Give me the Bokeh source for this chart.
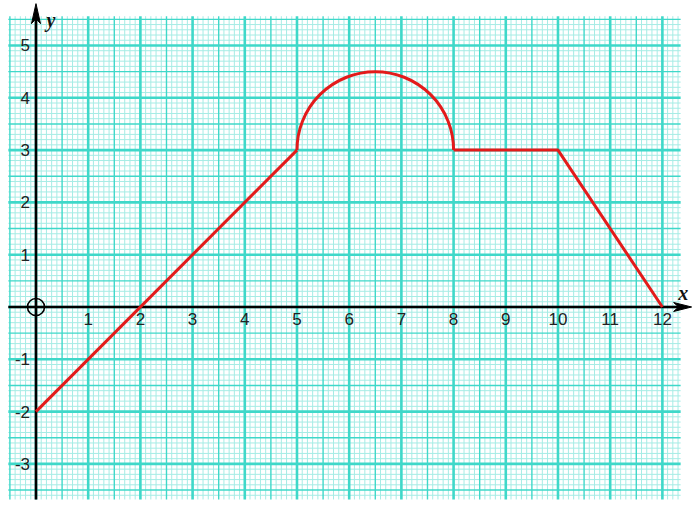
import numpy as np
from bokeh.plotting import figure
from bokeh.models import Range1d
from bokeh.core.properties import value
from bokeh.embed import file_html
from bokeh.resources import INLINE

# ---- data ----
line1_x = [0, 5]
line1_y = [-2, 3]
arc_center_x = [6.5]
arc_center_y = [3]
arc_radius = 1.5
line2_x = [8, 10, 12]
line2_y = [3, 3, 0]

x_tick_values = list(range(1, 13))
x_tick_labels = [str(v) for v in x_tick_values]
y_tick_values = [-3, -2, -1, 1, 2, 3, 4, 5]
y_tick_labels = [str(v) for v in y_tick_values]

# ---- figure ----
W, H = 692, 500
X0, X1 = -0.680, 12.577
Y0, Y1 = -3.700, 5.860
PXX = (X1 - X0) / W   # data units per px in x
PXY = (Y1 - Y0) / H   # data units per px in y

p = figure(width=W, height=H, x_range=Range1d(X0, X1), y_range=Range1d(Y0, Y1),
           output_backend="svg", toolbar_location=None, min_border=0,
           x_axis_location=None, y_axis_location=None)
p.xgrid.visible = False
p.ygrid.visible = False
p.outline_line_color = None
p.background_fill_color = "white"
p.border_fill_color = "white"

# ---- graph paper ----
gx_min, gx_max = -0.53, 12.35
gy_min, gy_max = -3.68, 5.56
minor_col = "#a6ece5"
major_col = "#3fd8c9"

xs = np.round(np.arange(-0.5, 12.31, 0.1), 1)
ys = np.round(np.arange(-3.6, 5.51, 0.1), 1)

def split(vals):
    minor = [v for v in vals if abs(v * 2 - round(v * 2)) > 1e-6]
    half = [v for v in vals if abs(v * 2 - round(v * 2)) < 1e-6 and abs(v - round(v)) > 1e-6]
    major = [v for v in vals if abs(v - round(v)) < 1e-6]
    return minor, half, major

xm, xh, xM = split(xs)
ym, yh, yM = split(ys)

for vx, vy, col, lw in [(xm, ym, minor_col, 1.0), (xh, yh, major_col, 1.4), (xM, yM, major_col, 2.6)]:
    p.segment(x0=vx, x1=vx, y0=[gy_min] * len(vx), y1=[gy_max] * len(vx), line_color=col, line_width=lw)
    p.segment(x0=[gx_min] * len(vy), x1=[gx_max] * len(vy), y0=vy, y1=vy, line_color=col, line_width=lw)

# ---- axes ----
x_tip = 12.56
y_tip = 5.80
p.segment(x0=[gx_min], x1=[x_tip - 12 * PXX], y0=[0], y1=[0], line_color="black", line_width=2.6)
p.segment(x0=[0], x1=[0], y0=[-3.68], y1=[y_tip - 12 * PXY], line_color="black", line_width=2.6)
# arrow heads
p.patch(x=[x_tip, x_tip - 18 * PXX, x_tip - 13 * PXX, x_tip - 18 * PXX],
        y=[0, 4.5 * PXY, 0, -4.5 * PXY], fill_color="black", line_color="black", line_width=1)
p.patch(x=[0, 4.5 * PXX, 0, -4.5 * PXX],
        y=[y_tip, y_tip - 20 * PXY, y_tip - 15 * PXY, y_tip - 20 * PXY],
        fill_color="black", line_color="black", line_width=1)

# origin circle
p.scatter(x=[0], y=[0], size=17, marker="circle", fill_color=None, line_color="black", line_width=1.6)

# ---- curve ----
curve_col = "#e31b1b"
p.line(x=line1_x, y=line1_y, line_color=curve_col, line_width=3, line_join="round")
p.arc(x=arc_center_x, y=arc_center_y, radius=arc_radius, start_angle=0, end_angle=np.pi,
      line_color=curve_col, line_width=3)
p.line(x=line2_x, y=line2_y, line_color=curve_col, line_width=3, line_join="round")

# ---- tick labels ----
lab_font = value("Liberation Sans")
p.text(x=x_tick_values, y=[0] * len(x_tick_values), text=x_tick_labels,
       text_align="center", text_baseline="middle", y_offset=12,
       text_font=lab_font, text_font_size="17px", text_color="#222222")
p.text(x=[0] * len(y_tick_values), y=y_tick_values, text=y_tick_labels,
       text_align="right", text_baseline="middle", x_offset=-6,
       text_font=lab_font, text_font_size="17px", text_color="#222222")

# axis names
p.text(x=[12.4], y=[0], text=["x"], text_align="center", text_baseline="middle", y_offset=-14,
       text_font=value("Liberation Serif"), text_font_style="bold italic",
       text_font_size="20px", text_color="#111111")
p.text(x=[0], y=[5.48], text=["y"], text_align="center", text_baseline="middle", x_offset=15,
       text_font=value("Liberation Serif"), text_font_style="bold italic",
       text_font_size="20px", text_color="#111111")

open("out.html", "w").write(file_html(p, INLINE))
